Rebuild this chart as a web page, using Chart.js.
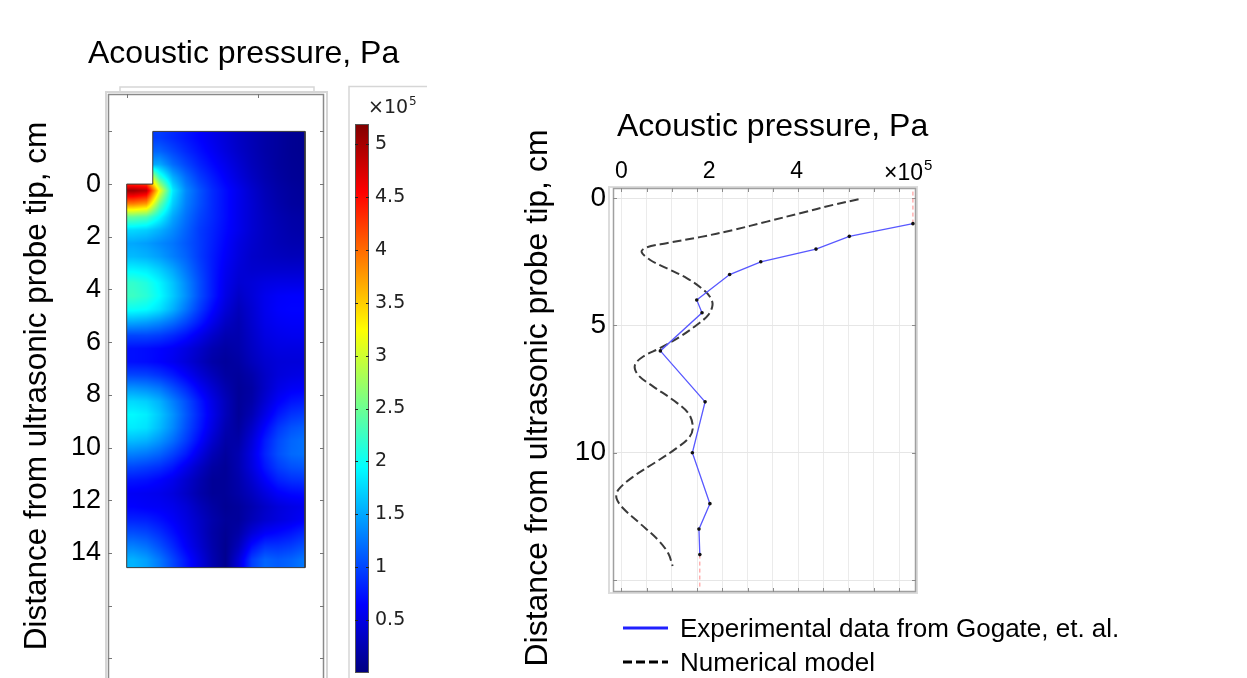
<!DOCTYPE html>
<html>
<head>
<meta charset="utf-8">
<title>Acoustic pressure</title>
<script src="https://cdn.jsdelivr.net/npm/chart.js@4.4.1/dist/chart.umd.min.js"></script>
<style>
html,body{margin:0;padding:0;background:#fff;overflow:hidden}
#wrap{position:relative;width:1247px;height:678px}
canvas{position:absolute}
#heat{left:0;top:0}
#cbar{left:340px;top:80px}
#prof{left:440px;top:80px}
</style>
</head>
<body>
<div id="wrap">
  <canvas id="heat" width="440" height="678"></canvas>
  <canvas id="cbar" width="100" height="598"></canvas>
  <canvas id="prof" width="807" height="598"></canvas>
</div>
<script>
// pressure in 1e5 Pa, depth in cm below the probe tip

// right panel: profile along the axis
const expDepth = [1, 1.5, 2, 2.5, 3, 4, 4.5, 6, 8, 10, 12, 13, 14];
const expPress = [6.65, 5.20, 4.44, 3.18, 2.47, 1.72, 1.84, 0.89, 1.91, 1.62, 2.02, 1.77, 1.79];
const numDepth = [0.04, 0.26, 0.59, 0.92, 1.25, 1.53, 1.77, 1.93, 2.10, 2.42, 2.75, 3.14, 3.54, 3.87, 4.19, 4.59, 4.98, 5.44, 5.89, 6.22,
                  6.55, 6.94, 7.40, 7.93, 8.45, 8.97, 9.37, 9.82, 10.35, 10.94, 11.46, 11.79, 12.18, 12.77, 13.43, 13.95, 14.45];
const numPress = [5.41, 4.84, 4.08, 3.32, 2.55, 1.79, 1.03, 0.58, 0.46, 0.65, 1.03, 1.49, 1.83, 2.02, 2.08, 1.98, 1.72, 1.34, 0.88, 0.50,
                  0.31, 0.38, 0.73, 1.18, 1.53, 1.63, 1.56, 1.26, 0.80, 0.27, -0.07, -0.11, 0.04, 0.42, 0.84, 1.07, 1.17];
// thin red guides at both ends of the measured data
const capTopDepth = [-0.26, 1];
const capTopPress = [6.65, 6.65];
const capEndDepth = [14, 15.26];
const capEndPress = [1.79, 1.79];
const profXLabels = [0, 2, 4];
const profYTicks = [0, 5, 10, 15];
const profYLabels = [0, 5, 10];

// left panel: field map, cell centres every 0.5 cm (columns = radius, rows = depth)
const fieldX = [0.25, 0.75, 1.25, 1.75, 2.25, 2.75, 3.25, 3.75, 4.25, 4.75, 5.25, 5.75, 6.25, 6.75];
const fieldY = [-1.75, -1.25, -0.75, -0.25, 0.25, 0.75, 1.25, 1.75, 2.25, 2.75, 3.25, 3.75, 4.25, 4.75, 5.25, 5.75, 6.25,
                6.75, 7.25, 7.75, 8.25, 8.75, 9.25, 9.75, 10.25, 10.75, 11.25, 11.75, 12.25, 12.75, 13.25, 13.75, 14.25, 14.75];
// first two columns of the first four rows sit inside the probe (hidden, only soften the edge)
const fieldP = [
  [0.95, 0.95, 0.95, 0.85, 0.75, 0.65, 0.55, 0.45, 0.35, 0.27, 0.20, 0.15, 0.10, 0.08],
  [1.15, 1.15, 1.15, 1.00, 0.85, 0.72, 0.60, 0.48, 0.37, 0.28, 0.20, 0.15, 0.10, 0.08],
  [1.50, 1.50, 1.50, 1.20, 1.00, 0.82, 0.68, 0.55, 0.42, 0.30, 0.22, 0.15, 0.11, 0.09],
  [3.60, 3.60, 2.20, 1.55, 1.20, 0.95, 0.78, 0.62, 0.47, 0.34, 0.24, 0.17, 0.12, 0.10],
  [5.05, 4.90, 3.20, 1.85, 1.35, 1.08, 0.86, 0.70, 0.55, 0.40, 0.28, 0.20, 0.15, 0.12],
  [3.90, 3.75, 2.50, 1.70, 1.30, 1.06, 0.86, 0.70, 0.55, 0.42, 0.30, 0.22, 0.16, 0.14],
  [2.45, 2.35, 1.95, 1.50, 1.22, 1.00, 0.85, 0.70, 0.55, 0.42, 0.32, 0.25, 0.20, 0.18],
  [1.75, 1.70, 1.55, 1.36, 1.15, 0.95, 0.82, 0.68, 0.55, 0.42, 0.33, 0.27, 0.22, 0.20],
  [1.50, 1.45, 1.35, 1.25, 1.10, 0.95, 0.80, 0.65, 0.50, 0.40, 0.33, 0.28, 0.25, 0.24],
  [1.60, 1.55, 1.45, 1.30, 1.15, 0.95, 0.78, 0.62, 0.48, 0.38, 0.34, 0.32, 0.30, 0.30],
  [1.90, 1.85, 1.70, 1.50, 1.25, 1.00, 0.78, 0.58, 0.45, 0.40, 0.40, 0.40, 0.40, 0.40],
  [2.20, 2.10, 1.90, 1.65, 1.35, 1.05, 0.78, 0.55, 0.42, 0.45, 0.50, 0.52, 0.52, 0.52],
  [2.25, 2.15, 1.95, 1.68, 1.38, 1.05, 0.78, 0.52, 0.36, 0.45, 0.56, 0.62, 0.64, 0.64],
  [2.00, 1.95, 1.80, 1.55, 1.25, 0.95, 0.68, 0.45, 0.30, 0.42, 0.56, 0.64, 0.66, 0.66],
  [1.50, 1.45, 1.35, 1.20, 1.00, 0.78, 0.55, 0.35, 0.26, 0.40, 0.54, 0.60, 0.62, 0.62],
  [1.00, 1.00, 0.95, 0.85, 0.72, 0.55, 0.38, 0.25, 0.24, 0.37, 0.50, 0.55, 0.57, 0.57],
  [0.72, 0.70, 0.66, 0.60, 0.50, 0.38, 0.25, 0.18, 0.22, 0.34, 0.45, 0.50, 0.50, 0.50],
  [0.72, 0.70, 0.65, 0.57, 0.46, 0.33, 0.20, 0.14, 0.18, 0.30, 0.40, 0.45, 0.46, 0.46],
  [1.00, 0.98, 0.90, 0.78, 0.62, 0.45, 0.30, 0.17, 0.14, 0.22, 0.36, 0.46, 0.50, 0.52],
  [1.40, 1.35, 1.25, 1.05, 0.85, 0.62, 0.42, 0.24, 0.12, 0.18, 0.36, 0.52, 0.60, 0.62],
  [1.75, 1.70, 1.55, 1.30, 1.05, 0.78, 0.52, 0.30, 0.12, 0.20, 0.42, 0.62, 0.74, 0.78],
  [1.92, 1.86, 1.66, 1.40, 1.10, 0.82, 0.55, 0.30, 0.12, 0.26, 0.52, 0.76, 0.90, 0.95],
  [1.85, 1.80, 1.60, 1.35, 1.05, 0.78, 0.50, 0.25, 0.15, 0.36, 0.66, 0.92, 1.06, 1.12],
  [1.60, 1.55, 1.40, 1.20, 0.95, 0.68, 0.40, 0.20, 0.20, 0.45, 0.78, 1.02, 1.16, 1.22],
  [1.30, 1.25, 1.15, 0.98, 0.78, 0.52, 0.28, 0.15, 0.25, 0.50, 0.82, 1.05, 1.18, 1.22],
  [1.00, 0.95, 0.88, 0.75, 0.55, 0.35, 0.18, 0.12, 0.25, 0.48, 0.75, 0.95, 1.05, 1.08],
  [0.75, 0.72, 0.65, 0.55, 0.40, 0.25, 0.12, 0.12, 0.22, 0.40, 0.62, 0.80, 0.88, 0.90],
  [0.60, 0.58, 0.55, 0.48, 0.36, 0.22, 0.12, 0.12, 0.20, 0.32, 0.48, 0.62, 0.68, 0.70],
  [0.65, 0.62, 0.60, 0.55, 0.45, 0.30, 0.18, 0.10, 0.14, 0.24, 0.36, 0.46, 0.52, 0.56],
  [0.82, 0.80, 0.72, 0.62, 0.50, 0.36, 0.22, 0.13, 0.14, 0.28, 0.40, 0.48, 0.55, 0.62],
  [1.05, 1.00, 0.88, 0.72, 0.55, 0.38, 0.20, 0.10, 0.20, 0.45, 0.62, 0.68, 0.75, 0.85],
  [1.30, 1.22, 1.05, 0.85, 0.62, 0.42, 0.22, 0.08, 0.30, 0.70, 0.90, 0.90, 0.95, 1.05],
  [1.55, 1.45, 1.25, 1.00, 0.75, 0.50, 0.25, 0.08, 0.45, 0.95, 1.15, 1.10, 1.15, 1.25],
  [1.58, 1.48, 1.28, 1.02, 0.76, 0.50, 0.25, 0.08, 0.48, 0.98, 1.18, 1.12, 1.18, 1.28]
];
// liquid domain outline (probe tip step at top left)
const domainX = [0, 0.99, 0.99, 6.77, 6.77, 0, 0];
const domainY = [0, 0, -2, -2, 14.56, 14.56, 0];
const heatYTicks = [-2, 0, 2, 4, 6, 8, 10, 12, 14, 16, 18];
const heatYLabels = [0, 2, 4, 6, 8, 10, 12, 14];
const heatXTicks = [0, 5];

// colour scale
const cbMin = 0, cbMax = 5.19;
const cbTicks = [0.5, 1, 1.5, 2, 2.5, 3, 3.5, 4, 4.5, 5];
const JET = [[0, 0, 0, 128], [0.125, 0, 0, 255], [0.375, 0, 255, 255], [0.625, 255, 255, 0], [0.875, 255, 0, 0], [1, 128, 0, 0]];

const FONT = "'Liberation Sans', Arial, sans-serif";
const CB_FONT = "'DejaVu Sans', sans-serif";
const Y_TITLE = "Distance from ultrasonic probe tip, cm";
Chart.defaults.font.family = FONT;
Chart.defaults.color = "#000";

// keep edge tick labels from shrinking the plot area
const noEdgePad = (s, size, key) => { s[key] = size; s.paddingTop = 0; s.paddingBottom = 0; s.paddingLeft = 0; s.paddingRight = 0; };

function jet(t){
  t = Math.min(Math.max(t, 0), 1);
  for (let k = 1; k < JET.length; k++){
    if (t <= JET[k][0]){
      const a = JET[k-1], b = JET[k], f = (t - a[0]) / (b[0] - a[0]);
      return [a[1] + (b[1]-a[1])*f, a[2] + (b[2]-a[2])*f, a[3] + (b[3]-a[3])*f];
    }
  }
  return JET[JET.length-1].slice(1);
}

function sampleField(vx, vy){
  const nx = fieldX.length, ny = fieldY.length;
  let fx = (vx - fieldX[0]) / (fieldX[1] - fieldX[0]);
  let fy = (vy - fieldY[0]) / (fieldY[1] - fieldY[0]);
  fx = Math.min(Math.max(fx, 0), nx-1); fy = Math.min(Math.max(fy, 0), ny-1);
  const i0 = Math.min(Math.floor(fx), nx-2), j0 = Math.min(Math.floor(fy), ny-2);
  const tx = fx - i0, ty = fy - j0;
  const r0 = fieldP[j0], r1 = fieldP[j0+1];
  const a = r0[i0]*(1-tx) + r0[i0+1]*tx, b = r1[i0]*(1-tx) + r1[i0+1]*tx;
  return a*(1-ty) + b*ty;
}

function domainPath(ctx, x, y){
  ctx.beginPath();
  domainX.forEach((v, i) => {
    const px = x.getPixelForValue(v), py = y.getPixelForValue(domainY[i]);
    i ? ctx.lineTo(px, py) : ctx.moveTo(px, py);
  });
  ctx.closePath();
}

function sup(ctx, base, exp, x, y, size, supSize, font){
  ctx.font = `${size}px ${font}`;
  ctx.fillText(base, x, y);
  const w = ctx.measureText(base).width;
  ctx.font = `${supSize}px ${font}`;
  ctx.fillText(exp, x + w + 1, y - size*0.42);
}

const fieldPlugin = {
  id: "field",
  beforeDatasetsDraw(chart){
    const {ctx, scales: {x, y}} = chart;
    const left = Math.floor(x.getPixelForValue(Math.min(...domainX)));
    const right = Math.ceil(x.getPixelForValue(Math.max(...domainX)));
    const top = Math.floor(y.getPixelForValue(Math.min(...domainY)));
    const bottom = Math.ceil(y.getPixelForValue(Math.max(...domainY)));
    const w = right - left, h = bottom - top;
    const off = document.createElement("canvas");
    off.width = w; off.height = h;
    const octx = off.getContext("2d");
    const img = octx.createImageData(w, h);
    for (let j = 0; j < h; j++){
      const vy = y.getValueForPixel(top + j + 0.5);
      for (let i = 0; i < w; i++){
        const vx = x.getValueForPixel(left + i + 0.5);
        const c = jet((sampleField(vx, vy) - cbMin) / (cbMax - cbMin));
        const k = (j*w + i) * 4;
        img.data[k] = c[0]; img.data[k+1] = c[1]; img.data[k+2] = c[2]; img.data[k+3] = 255;
      }
    }
    octx.putImageData(img, 0, 0);
    ctx.save();
    domainPath(ctx, x, y);
    ctx.clip();
    ctx.drawImage(off, left, top);
    ctx.restore();
  }
};

const heatFrame = {
  id: "heatFrame",
  afterDraw(chart){
    const {ctx, chartArea: a, scales: {x, y}} = chart;
    ctx.save();
    ctx.strokeStyle = "#d6d6d6"; ctx.lineWidth = 2;
    ctx.beginPath();
    ctx.moveTo(a.left - 2, a.bottom); ctx.lineTo(a.left - 2, a.top - 2); ctx.lineTo(a.right + 3, a.top - 2); ctx.lineTo(a.right + 3, a.bottom);
    ctx.stroke();
    ctx.lineWidth = 1.5;
    ctx.beginPath();
    ctx.moveTo(a.left + 12, a.top - 2); ctx.lineTo(a.left + 12, a.top - 7); ctx.lineTo(a.right - 10, a.top - 7); ctx.lineTo(a.right - 10, a.top - 2);
    ctx.stroke();
    ctx.strokeStyle = "#8a8a8a"; ctx.lineWidth = 1.5;
    ctx.beginPath();
    ctx.moveTo(a.left + 0.5, a.bottom); ctx.lineTo(a.left + 0.5, a.top + 0.5); ctx.lineTo(a.right - 0.5, a.top + 0.5); ctx.lineTo(a.right - 0.5, a.bottom);
    ctx.stroke();
    ctx.strokeStyle = "#777"; ctx.lineWidth = 1;
    ctx.beginPath();
    heatYTicks.forEach(v => {
      const py = Math.round(y.getPixelForValue(v)) + 0.5;
      ctx.moveTo(a.left, py); ctx.lineTo(a.left + 4, py);
      ctx.moveTo(a.right, py); ctx.lineTo(a.right - 4, py);
    });
    heatXTicks.forEach(v => {
      const px = Math.round(x.getPixelForValue(v)) + 0.5;
      ctx.moveTo(px, a.top); ctx.lineTo(px, a.top + 4);
    });
    ctx.stroke();
    ctx.fillStyle = "#000";
    ctx.font = `32px ${FONT}`;
    ctx.textBaseline = "alphabetic";
    ctx.fillText("Acoustic pressure, Pa", 88, 63);
    ctx.restore();
  }
};

new Chart(document.getElementById("heat"), {
  type: "scatter",
  data: { datasets: [{
    data: domainX.map((v, i) => ({x: v, y: domainY[i]})),
    showLine: true, borderColor: "#3a3a3a", borderWidth: 1, pointRadius: 0, fill: false
  }]},
  options: {
    responsive: false, animation: false,
    layout: { padding: { top: 94, right: 116, left: 0, bottom: 0 } },
    plugins: { legend: { display: false }, tooltip: { enabled: false } },
    scales: {
      x: { type: "linear", display: false, min: -0.71, max: 7.49 },
      y: { type: "linear", reverse: true, min: -3.42, max: 18.75, position: "left",
        afterFit: s => noEdgePad(s, 108, "width"),
        afterBuildTicks: s => { s.ticks = heatYTicks.map(v => ({value: v})); },
        grid: { display: false, drawTicks: false }, border: { display: false },
        ticks: { font: { size: 27 }, color: "#000", padding: 7, callback: v => heatYLabels.includes(v) ? v : "" },
        title: { display: true, text: Y_TITLE, font: { size: 31.5 }, color: "#000", padding: { top: 18, bottom: 0 } }
      }
    }
  },
  plugins: [fieldPlugin, heatFrame]
});

const colorbarPlugin = {
  id: "colorbar",
  beforeDatasetsDraw(chart){
    const {ctx, chartArea: a, scales: {y}} = chart;
    const g = ctx.createLinearGradient(0, y.getPixelForValue(cbMin), 0, y.getPixelForValue(cbMax));
    JET.forEach(s => g.addColorStop(s[0], `rgb(${s[1]},${s[2]},${s[3]})`));
    ctx.save();
    ctx.fillStyle = g;
    ctx.fillRect(a.left, a.top, a.width, a.height);
    ctx.strokeStyle = "#555"; ctx.lineWidth = 1;
    ctx.strokeRect(a.left + 0.5, a.top + 0.5, a.width - 1, a.height - 1);
    ctx.strokeStyle = "#222";
    ctx.beginPath();
    cbTicks.forEach(v => {
      const py = Math.round(y.getPixelForValue(v)) + 0.5;
      ctx.moveTo(a.left, py); ctx.lineTo(a.left + 3, py);
      ctx.moveTo(a.right, py); ctx.lineTo(a.right - 3, py);
    });
    ctx.stroke();
    ctx.strokeStyle = "#d6d6d6"; ctx.lineWidth = 1.5;
    ctx.beginPath();
    ctx.moveTo(9, chart.height); ctx.lineTo(9, 6.5); ctx.lineTo(87, 6.5);
    ctx.stroke();
    ctx.fillStyle = "#222";
    sup(ctx, "\u00d710", "5", 28, 33, 19, 12, CB_FONT);
    ctx.restore();
  }
};

new Chart(document.getElementById("cbar"), {
  type: "scatter",
  data: { datasets: [] },
  options: {
    responsive: false, animation: false,
    layout: { padding: { left: 15, top: 44, bottom: 5, right: 0 } },
    plugins: { legend: { display: false }, tooltip: { enabled: false } },
    scales: {
      x: { type: "linear", display: false, min: 0, max: 1 },
      y: { type: "linear", position: "right", min: cbMin, max: cbMax,
        afterFit: s => noEdgePad(s, 71, "width"),
        afterBuildTicks: s => { s.ticks = cbTicks.map(v => ({value: v})); },
        grid: { display: false, drawTicks: false }, border: { display: false },
        ticks: { font: { family: CB_FONT, size: 19 }, color: "#222", padding: 6, callback: v => String(v) }
      }
    }
  },
  plugins: [colorbarPlugin]
});

const profDecor = {
  id: "profDecor",
  beforeDatasetsDraw(chart){
    const {ctx, chartArea: a, scales: {xg, y}} = chart;
    ctx.save();
    ctx.strokeStyle = "#dcdcdc"; ctx.lineWidth = 2;
    ctx.strokeRect(a.left - 4, a.top - 1, a.width + 5, a.height + 2);
    ctx.strokeStyle = "#a0a0a0"; ctx.lineWidth = 1.5;
    ctx.strokeRect(a.left + 0.5, a.top + 0.5, a.width - 1, a.height - 1);
    ctx.strokeStyle = "#8c8c8c"; ctx.lineWidth = 1;
    ctx.beginPath();
    xg.ticks.forEach(t => {
      const px = Math.round(xg.getPixelForValue(t.value)) + 0.5;
      ctx.moveTo(px, a.top); ctx.lineTo(px, a.top + 4);
      ctx.moveTo(px, a.bottom); ctx.lineTo(px, a.bottom - 4);
    });
    y.ticks.forEach(t => {
      const py = Math.round(y.getPixelForValue(t.value)) + 0.5;
      ctx.moveTo(a.left, py); ctx.lineTo(a.left + 4, py);
      ctx.moveTo(a.right, py); ctx.lineTo(a.right - 4, py);
    });
    ctx.stroke();
    ctx.restore();
  },
  afterDraw(chart){
    const {ctx} = chart;
    ctx.save();
    ctx.fillStyle = "#000";
    ctx.textBaseline = "alphabetic";
    ctx.font = `32px ${FONT}`;
    ctx.fillText("Acoustic pressure, Pa", 177, 56);
    sup(ctx, "\u00d710", "5", 444, 100, 23, 15, FONT);
    // rotated axis title, sitting a little lower than the plot centre
    ctx.save();
    ctx.translate(98, 318);
    ctx.rotate(-Math.PI / 2);
    ctx.textAlign = "center"; ctx.textBaseline = "middle";
    ctx.font = `32px ${FONT}`;
    ctx.fillText(Y_TITLE, 0, 0);
    ctx.restore();
    // legend
    const rows = [548, 582];
    chart.data.datasets.slice(0, 2).forEach((ds, i) => {
      ctx.strokeStyle = i === 0 ? "#2020ff" : "#000";
      ctx.lineWidth = 3;
      ctx.setLineDash(ds.borderDash || []);
      ctx.beginPath();
      ctx.moveTo(183, rows[i]); ctx.lineTo(228, rows[i]);
      ctx.stroke();
      ctx.setLineDash([]);
      ctx.font = `26px ${FONT}`;
      ctx.fillText(ds.label, 240, rows[i] + 9);
    });
    ctx.restore();
  }
};

const pts = (xs, ys) => xs.map((v, i) => ({x: v, y: ys[i]}));

new Chart(document.getElementById("prof"), {
  type: "scatter",
  data: { datasets: [
    { label: "Experimental data from Gogate, et. al.", data: pts(expPress, expDepth), showLine: true,
      borderColor: "#5858ff", borderWidth: 1.3, pointRadius: 1.8, pointBackgroundColor: "#111", pointBorderWidth: 0 },
    { label: "Numerical model", data: pts(numPress, numDepth), showLine: true, tension: 0.35,
      borderColor: "#3a3a3a", borderWidth: 2, borderDash: [9, 4], pointRadius: 0 },
    { label: "", data: pts(capTopPress, capTopDepth), showLine: true, borderColor: "#ff8a8a", borderWidth: 1, borderDash: [4, 3], pointRadius: 0 },
    { label: "", data: pts(capEndPress, capEndDepth), showLine: true, borderColor: "#ff8a8a", borderWidth: 1, borderDash: [4, 3], pointRadius: 0 }
  ]},
  options: {
    responsive: false, animation: false,
    layout: { padding: { top: 0, right: 331, left: 0, bottom: 86 } },
    plugins: { legend: { display: false }, tooltip: { enabled: false } },
    scales: {
      x: { type: "linear", position: "top", min: -0.19, max: 6.72,
        afterFit: s => noEdgePad(s, 108, "height"),
        afterBuildTicks: s => { s.ticks = profXLabels.map(v => ({value: v})); },
        grid: { display: false, drawTicks: false }, border: { display: false },
        ticks: { font: { size: 23 }, color: "#000", padding: 3 }
      },
      xg: { type: "linear", position: "top", min: -0.19, max: 6.72,
        afterFit: s => noEdgePad(s, 0, "height"),
        afterBuildTicks: s => { s.ticks = Array.from({length: 12}, (_, k) => ({value: k * 0.576})); },
        grid: { color: "#ebebeb", lineWidth: 1, drawTicks: false }, border: { display: false },
        ticks: { display: false }
      },
      y: { type: "linear", position: "left", reverse: true, min: -0.40, max: 15.47,
        afterFit: s => noEdgePad(s, 173, "width"),
        afterBuildTicks: s => { s.ticks = profYTicks.map(v => ({value: v})); },
        grid: { color: "#e6e6e6", lineWidth: 1, drawTicks: false }, border: { display: false },
        ticks: { font: { size: 28 }, color: "#000", padding: 7, callback: v => profYLabels.includes(v) ? v : "" }
      }
    }
  },
  plugins: [profDecor]
});
</script>
</body>
</html>
